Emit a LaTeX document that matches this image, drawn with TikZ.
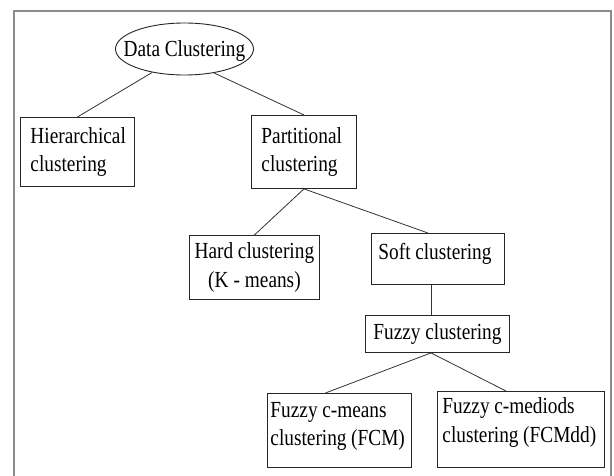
\documentclass[tikz,border=0pt]{standalone}
\usepackage{fontspec}
\setmainfont{Liberation Serif}[FakeStretch=0.84]
\usetikzlibrary{shapes.geometric,calc}
\newcommand{\diagfont}{\fontsize{23}{28.5}\selectfont}
\newcommand{\ws}{\spaceskip=4.6pt plus 1pt minus 1pt\xspaceskip=4.6pt\relax}
\begin{document}
\begin{tikzpicture}[x=1pt,y=-1pt,
  font=\diagfont,
  box/.style={draw=black!85, line width=0.9pt, inner ysep=0pt, anchor=north west},
  conn/.style={draw=black!80, line width=0.8pt}]
\useasboundingbox (0,0) rectangle (614,476);
\fill[white] (0,0) rectangle (614,476);
\draw[black!45, line width=1.3pt] (14,480) -- (14,11) -- (611,11) -- (611,480);

\node[ellipse, draw=black!85, line width=0.9pt, minimum width=138, minimum height=52,
  inner sep=0pt, text height=0pt, text depth=0pt] (dc) at (184.5,49)
  {\ws\makebox[0pt]{\raisebox{-7.5pt}{Data Clustering}}};

\node[box, minimum width=114, minimum height=69, inner xsep=10pt, text width=94pt, align=left]
  (hier) at (20,117) {\ws Hierarchical\\clustering};
\node[box, minimum width=105, minimum height=73, inner xsep=10pt, text width=85pt, align=left]
  (part) at (251,115) {\ws Partitional\\clustering};
\node[box, minimum width=130, minimum height=64, inner xsep=3pt, text width=124pt, align=center]
  (hard) at (189,235) {\ws Hard clustering\\(K - means)};
\node[box, minimum width=133, inner xsep=7pt, text width=119pt, align=left,
  text height=26pt, text depth=25pt]
  (soft) at (371,233) {\ws Soft clustering};
\node[box, minimum width=144, minimum height=37, inner xsep=3pt, text width=138pt, align=center]
  (fuzzy) at (365,315) {\ws Fuzzy clustering};
\node[box, minimum width=144, minimum height=74, inner xsep=3pt, text width=138pt, align=left]
  (fcm) at (267,393) {\ws Fuzzy c-means\\clustering (FCM)\rule[-13pt]{0pt}{1pt}};
\node[box, minimum width=167, minimum height=76, inner xsep=5pt, text width=157pt, align=left]
  (fcmdd) at (437,391) {\ws Fuzzy c-mediods\\clustering (FCMdd)\rule[-19pt]{0pt}{1pt}};

\coordinate (fz) at ($(fuzzy.south)+(-6.5,0)$);
\draw[conn] (dc.-144) -- (hier.north);
\draw[conn] (dc.-39) -- (part.north);
\draw[conn] (part.south) -- (hard.north);
\draw[conn] (part.south) -- ($(soft.north)+(-10,0)$);
\draw[conn] (soft.south -| fz) -- (fuzzy.north -| fz);
\draw[conn] (fz) -- ($(fcm.north)+(-14,0)$);
\draw[conn] (fz) -- ($(fcmdd.north)+(-15,0)$);
\end{tikzpicture}
\end{document}
